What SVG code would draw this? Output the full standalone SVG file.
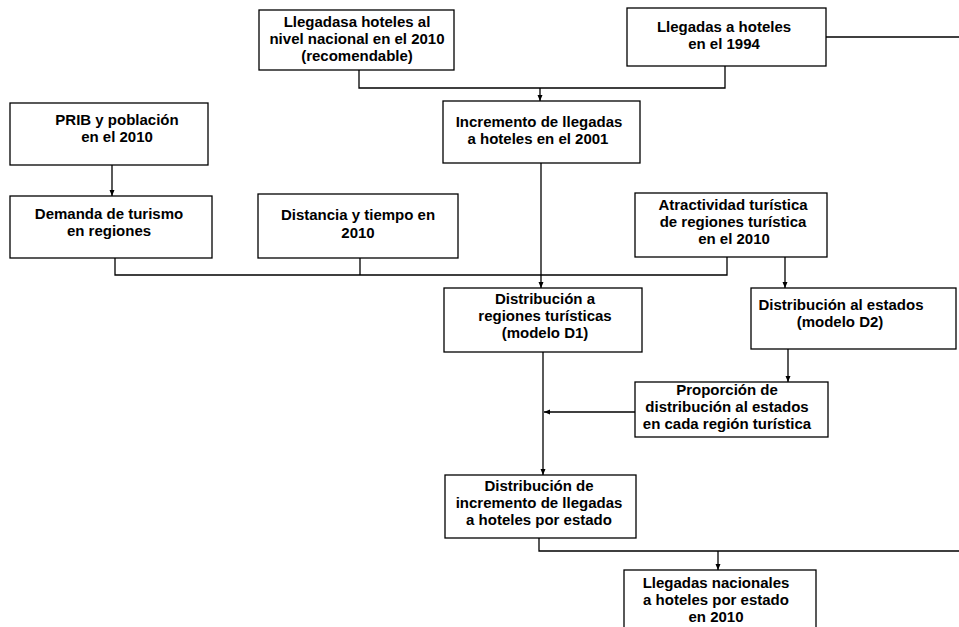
<svg xmlns="http://www.w3.org/2000/svg" width="959" height="627" viewBox="0 0 959 627">
<defs>
<style>
.box{fill:#fff;stroke:#000;stroke-width:1.3}
.t{font-family:"Liberation Sans",Arial,sans-serif;font-weight:bold;font-size:15px;fill:#000;text-anchor:middle}
.c{fill:none;stroke:#000;stroke-width:1.3}
</style>
<marker id="ah" markerUnits="userSpaceOnUse" markerWidth="8" markerHeight="8" refX="6" refY="3" orient="auto">
<path d="M0,0.5 L6,3 L0,5.5 Z" fill="#000"/>
</marker>
</defs>
<rect width="959" height="627" fill="#fff"/>
<g id="connectors">
<path class="c" d="M359,70 V88 H725 V66"/>
<path class="c" d="M540,88 V101" marker-end="url(#ah)"/>
<path class="c" d="M826,37 H959"/>
<path class="c" d="M112,165 V196" marker-end="url(#ah)"/>
<path class="c" d="M115,258 V275 H727 V257"/>
<path class="c" d="M360,258 V275"/>
<path class="c" d="M541,163 V288" marker-end="url(#ah)"/>
<path class="c" d="M785,257 V288" marker-end="url(#ah)"/>
<path class="c" d="M788,349 V382" marker-end="url(#ah)"/>
<path class="c" d="M635,412 H544" marker-end="url(#ah)"/>
<path class="c" d="M543,352 V475" marker-end="url(#ah)"/>
<path class="c" d="M539,538 V551 H959"/>
<path class="c" d="M718,551 V570" marker-end="url(#ah)"/>
</g>
<g id="n1">
<rect class="box" x="259" y="10" width="195" height="60"/>
<text class="t" x="357" y="27">Llegadasa hoteles al</text>
<text class="t" x="357" y="44">nivel nacional en el 2010</text>
<text class="t" x="357" y="61">(recomendable)</text>
</g>
<g id="n2">
<rect class="box" x="627" y="8" width="199" height="58"/>
<text class="t" x="724" y="32">Llegadas a hoteles</text>
<text class="t" x="724" y="49">en el 1994</text>
</g>
<g id="n3">
<rect class="box" x="10" y="103" width="198" height="62"/>
<text class="t" x="117" y="125">PRIB y población</text>
<text class="t" x="117" y="142">en el 2010</text>
</g>
<g id="n4">
<rect class="box" x="443" y="101" width="197" height="62"/>
<text class="t" x="539" y="127">Incremento de llegadas</text>
<text class="t" x="538" y="144">a hoteles en el 2001</text>
</g>
<g id="n5">
<rect class="box" x="10" y="196" width="202" height="62"/>
<text class="t" x="109" y="219">Demanda de turismo</text>
<text class="t" x="109" y="236">en regiones</text>
</g>
<g id="n6">
<rect class="box" x="258" y="194" width="200" height="64"/>
<text class="t" x="358" y="220">Distancia y tiempo en</text>
<text class="t" x="358" y="238">2010</text>
</g>
<g id="n7">
<rect class="box" x="635" y="193" width="192" height="64"/>
<text class="t" x="733" y="210">Atractividad turística</text>
<text class="t" x="733" y="227">de regiones turística</text>
<text class="t" x="734" y="244">en el 2010</text>
</g>
<g id="n8">
<rect class="box" x="444" y="288" width="198" height="64"/>
<text class="t" x="545" y="304">Distribución a</text>
<text class="t" x="545" y="321">regiones turísticas</text>
<text class="t" x="545" y="338">(modelo D1)</text>
</g>
<g id="n9">
<rect class="box" x="751" y="288" width="205" height="61"/>
<text class="t" x="841" y="310">Distribución al estados</text>
<text class="t" x="840" y="327">(modelo D2)</text>
</g>
<g id="n10">
<rect class="box" x="635" y="382" width="193" height="55"/>
<text class="t" x="727" y="395">Proporción de</text>
<text class="t" x="727" y="412">distribución al estados</text>
<text class="t" x="727" y="429">en cada región turística</text>
</g>
<g id="n11">
<rect class="box" x="445" y="475" width="191" height="63"/>
<text class="t" x="539" y="491">Distribución de</text>
<text class="t" x="539" y="508">incremento de llegadas</text>
<text class="t" x="539" y="525">a hoteles por estado</text>
</g>
<g id="n12">
<rect class="box" x="624" y="570" width="192" height="62"/>
<text class="t" x="716" y="588">Llegadas nacionales</text>
<text class="t" x="716" y="605">a hoteles por estado</text>
<text class="t" x="716" y="622">en 2010</text>
</g>
</svg>
